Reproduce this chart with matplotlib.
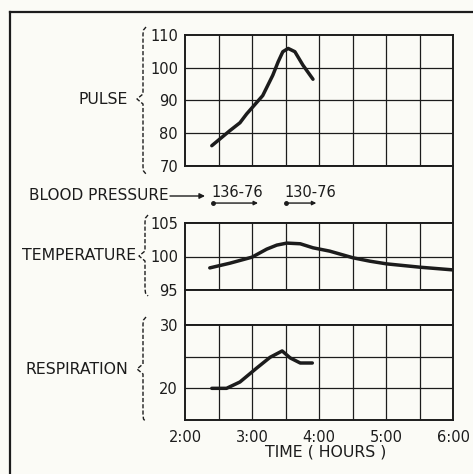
import matplotlib.pyplot as plt
import numpy as np

# readings taken off the chart (time in hours)
pulse_t = [2.40, 2.67, 2.82, 2.92, 3.16, 3.31, 3.39, 3.46, 3.54, 3.64, 3.76, 3.91]
pulse_v = [76.2, 80.8, 83.2, 85.9, 91.5, 97.7, 101.8, 104.9, 105.9, 104.9, 100.8, 96.5]

temp_t = [2.37, 2.67, 3.00, 3.22, 3.37, 3.52, 3.72, 3.91, 4.16, 4.51, 4.76, 5.01, 5.51, 6.00]
temp_v = [98.3, 99.0, 99.9, 101.1, 101.7, 102.0, 101.9, 101.3, 100.8, 99.8, 99.3, 98.9, 98.4, 98.0]

resp_t = [2.40, 2.62, 2.82, 3.07, 3.27, 3.45, 3.57, 3.72, 3.90]
resp_v = [20.0, 20.0, 21.0, 23.2, 24.9, 25.9, 24.8, 24.0, 24.0]

bp_labels = ["136-76", "130-76"]
bp_start = [2.42, 3.51]
bp_end = [3.09, 3.96]

time_ticks = [2, 3, 4, 5, 6]
time_labels = ["2:00", "3:00", "4:00", "5:00", "6:00"]

INK = "#1c1c1c"
BG = "#fbfbf6"
FS_TICK = 10.5
FS_LAB = 11.3

plt.rcParams.update({"font.family": "DejaVu Sans", "font.size": FS_TICK})

W, H = 473, 474
fig = plt.figure(figsize=(W / 100, H / 100), dpi=100, facecolor=BG)


def px_axes(top, bottom, left=185, right=453):
    return fig.add_axes([left / W, 1 - bottom / H, (right - left) / W, (bottom - top) / H])


def grid_panel(ax, ylim, ystep):
    ax.set_facecolor(BG)
    ax.set_xlim(2, 6)
    ax.set_ylim(*ylim)
    for x in np.arange(2.5, 6, 0.5):
        ax.axvline(x, color=INK, lw=0.9)
    for y in np.arange(ylim[0] + ystep, ylim[1], ystep):
        ax.axhline(y, color=INK, lw=0.9)
    for s in ax.spines.values():
        s.set_linewidth(1.4)
        s.set_color(INK)
    ax.tick_params(length=0, pad=5, labelsize=FS_TICK, colors=INK)
    ax.set_xticks([])


def blank_panel(ax):
    ax.set_facecolor(BG)
    ax.set_xlim(2, 6)
    ax.set_ylim(0, 1)
    ax.set_xticks([])
    ax.set_yticks([])
    for s in ax.spines.values():
        s.set_linewidth(1.4)
        s.set_color(INK)


curve = dict(color=INK, lw=2.5, solid_capstyle="round", solid_joinstyle="round")

# pulse
ax_p = px_axes(35, 166)
grid_panel(ax_p, (70, 110), 10)
ax_p.set_yticks([70, 80, 90, 100, 110])
ax_p.plot(pulse_t, pulse_v, **curve)

# blood pressure band
ax_b = px_axes(166, 223)
blank_panel(ax_b)
ax_b.spines["left"].set_visible(False)
for lab, t0, t1 in zip(bp_labels, bp_start, bp_end):
    ax_b.text(t0 - 0.02, 0.53, lab, ha="left", va="center", fontsize=10.5, color=INK)
    ax_b.annotate("", xy=(t1, 0.35), xytext=(t0, 0.35),
                  arrowprops=dict(arrowstyle="-|>", color=INK, lw=1.0,
                                  mutation_scale=6, shrinkA=0, shrinkB=0))
    ax_b.plot([t0], [0.35], marker="o", ms=2.5, color=INK)

# temperature
ax_t = px_axes(223, 290)
grid_panel(ax_t, (95, 105), 5)
ax_t.set_yticks([95, 100, 105])
ax_t.plot(temp_t, temp_v, **curve)

# gap band
ax_g = px_axes(290, 325)
blank_panel(ax_g)

# respiration
ax_r = px_axes(325, 420)
grid_panel(ax_r, (15, 30), 5)
ax_r.set_yticks([20, 30])
ax_r.plot(resp_t, resp_v, **curve)
ax_r.set_xticks(time_ticks)
ax_r.set_xticklabels(time_labels)
ax_r.tick_params(axis="x", pad=7)

# overlay in pixel coordinates for frame, labels and braces
ov = fig.add_axes([0, 0, 1, 1], zorder=5)
ov.set_xlim(0, W)
ov.set_ylim(H, 0)
ov.axis("off")
ov.patch.set_visible(False)

ov.plot([10, W], [12, 12], color=INK, lw=1.6)
ov.plot([10, 10], [12, H], color=INK, lw=1.6)


def brace(x, y0, y1, ym):
    xs = [x + 3, x + 0.5, x, x, x - 6, x, x, x + 0.5, x + 3]
    ys = [y0, y0 + 3, y0 + 7, ym - 5, ym, ym + 5, y1 - 7, y1 - 3, y1]
    ov.plot(xs, ys, color=INK, lw=1.0, ls=(0, (3, 1.5)))


brace(143, 27, 174, 99)
brace(145, 215, 296, 256)
brace(143, 317, 422, 369)

ov.text(128, 99, "PULSE", ha="right", va="center", fontsize=FS_LAB, color=INK)
ov.text(136, 256, "TEMPERATURE", ha="right", va="center", fontsize=FS_LAB, color=INK)
ov.text(128, 369, "RESPIRATION", ha="right", va="center", fontsize=FS_LAB, color=INK)
ov.text(29, 195, "BLOOD PRESSURE", ha="left", va="center", fontsize=11, color=INK)
ov.annotate("", xy=(205, 196), xytext=(170, 196),
            arrowprops=dict(arrowstyle="-|>", color=INK, lw=1.0,
                            mutation_scale=8, shrinkA=0, shrinkB=0))
ov.text(326, 452, "TIME ( HOURS )", ha="center", va="center", fontsize=FS_LAB, color=INK)

fig.savefig("out.png", dpi=100, facecolor=BG)
